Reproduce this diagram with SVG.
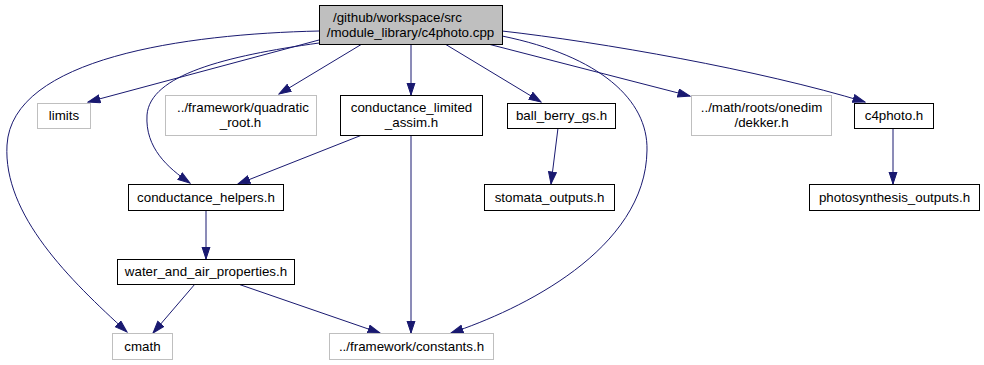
<svg xmlns="http://www.w3.org/2000/svg" width="984" height="365" viewBox="0 0 984 365">
<style>
.n rect{fill:#ffffff;stroke:#000000;stroke-width:1}
.n.g rect{stroke:#bfbfbf}
.n.root rect{fill:#bfbfbf}
text{font-family:"Liberation Sans",Arial,Helvetica,sans-serif;font-size:13.33px;fill:#000000}
.e path{fill:none;stroke:#191970;stroke-width:1;marker-end:url(#arr)}
</style>
<defs>
<marker id="arr" markerUnits="userSpaceOnUse" markerWidth="14" markerHeight="11" refX="12.5" refY="4.5" orient="auto">
<path d="M0.5,0.5 L12.5,4.5 L0.5,8.5 z" fill="#191970" stroke="#191970" stroke-width="1"/>
</marker>
</defs>
<rect width="984" height="365" fill="#ffffff"/>
<g id="edges" class="e">
<path d="M319,31 C185,34 12,58 7,145 C3,215 70,280 127,332"/>
<path d="M319,40 L88,102"/>
<path d="M319,43 C225,56 150,75 147,115 C145,148 168,168 190,183"/>
<path d="M362,44 L279,94"/>
<path d="M411,44 L411,95"/>
<path d="M445,44 L541,102"/>
<path d="M488,44 L690,96"/>
<path d="M502,36 C600,56 648,100 647,150 C646,250 520,310 451,333"/>
<path d="M502,31 C600,42 760,70 865,102"/>
<path d="M362,135 L238,184"/>
<path d="M411,135 L411,333"/>
<path d="M558,128 L551,184"/>
<path d="M893,128 L893,184"/>
<path d="M206,210 L206,259"/>
<path d="M195,284 L153,333"/>
<path d="M238,284 L380,333"/>
</g>
<g id="node_root" class="n root"><rect x="319.5" y="5.5" width="183" height="39"/>
<text x="333" y="21.5">/github/workspace/src</text>
<text x="410.5" y="36.5" text-anchor="middle">/module_library/c4photo.cpp</text></g>
<g id="node_limits" class="n g"><rect x="37.5" y="103.5" width="53" height="25"/>
<text x="64" y="120" text-anchor="middle">limits</text></g>
<g id="node_quadratic" class="n g"><rect x="165.5" y="95.5" width="151" height="40"/>
<text x="177" y="111.5">../framework/quadratic</text>
<text x="240.5" y="126.5" text-anchor="middle">_root.h</text></g>
<g id="node_cla" class="n"><rect x="340.5" y="95.5" width="142" height="40"/>
<text x="411.5" y="111.5" text-anchor="middle">conductance_limited</text>
<text x="411.5" y="126.5" text-anchor="middle">_assim.h</text></g>
<g id="node_ballberry" class="n"><rect x="507.5" y="103.5" width="108" height="25"/>
<text x="561.5" y="120" text-anchor="middle">ball_berry_gs.h</text></g>
<g id="node_dekker" class="n g"><rect x="691.5" y="95.5" width="140" height="40"/>
<text x="761.5" y="111.5" text-anchor="middle">../math/roots/onedim</text>
<text x="761.5" y="126.5" text-anchor="middle">/dekker.h</text></g>
<g id="node_c4photoh" class="n"><rect x="854.5" y="103.5" width="79" height="25"/>
<text x="894" y="120" text-anchor="middle">c4photo.h</text></g>
<g id="node_chelpers" class="n"><rect x="128.5" y="184.5" width="155" height="26"/>
<text x="206" y="201.5" text-anchor="middle">conductance_helpers.h</text></g>
<g id="node_stomata" class="n"><rect x="484.5" y="184.5" width="130" height="26"/>
<text x="549.5" y="201.5" text-anchor="middle">stomata_outputs.h</text></g>
<g id="node_photo" class="n"><rect x="809.5" y="184.5" width="170" height="26"/>
<text x="894.5" y="201.5" text-anchor="middle">photosynthesis_outputs.h</text></g>
<g id="node_water" class="n"><rect x="117.5" y="259.5" width="177" height="25"/>
<text x="206" y="276" text-anchor="middle">water_and_air_properties.h</text></g>
<g id="node_cmath" class="n g"><rect x="112.5" y="333.5" width="60" height="26"/>
<text x="142.5" y="350.5" text-anchor="middle">cmath</text></g>
<g id="node_constants" class="n g"><rect x="329.5" y="333.5" width="164" height="26"/>
<text x="411.5" y="350.5" text-anchor="middle">../framework/constants.h</text></g>
</svg>
